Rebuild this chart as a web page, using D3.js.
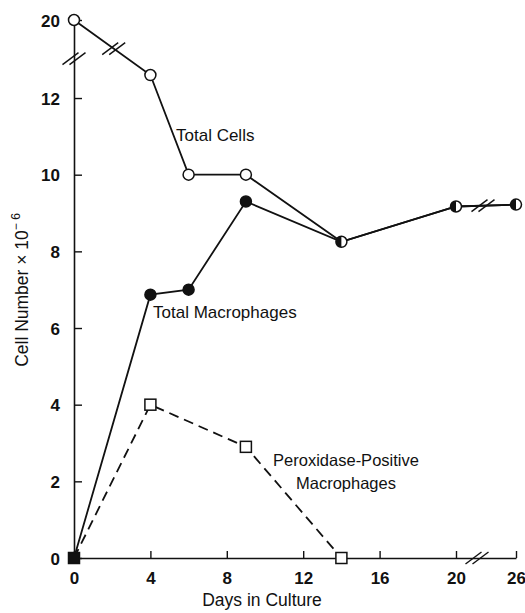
<!DOCTYPE html>
<html>
<head>
<meta charset="utf-8">
<script src="https://cdn.jsdelivr.net/npm/d3@7"></script>
<style>
  body { margin: 0; background: #fff; }
  text { font-family: "Liberation Sans", Arial, sans-serif; fill: #111; }
</style>
</head>
<body>
<script>
// days in culture
const days = [0, 4, 6, 9, 14, 20, 26];
const totalCells = [20, 12.6, 10, 10, 8.25, 9.17, 9.22];
const macroDays = [0, 4, 6, 9, 14, 20, 26];
const totalMacro = [0, 6.87, 7.0, 9.3, 8.25, 9.17, 9.22];
const peroxDays = [0, 4, 9, 14];
const peroxPos = [0, 4.0, 2.9, 0];
const xTicks = [0, 4, 8, 12, 16, 20, 26];
const yTicks = [0, 2, 4, 6, 8, 10, 12, 20];

const w = 525, h = 613;
const svg = d3.select("body").append("svg").attr("width", w).attr("height", h);

// broken scales
const x = d3.scaleLinear().domain([0, 20, 26]).range([74, 456, 516]);
const y = d3.scaleLinear().domain([0, 13, 20]).range([558, 59.7, 20]);

const xAxis = svg.append("g").attr("transform", `translate(0,${y(0)})`)
  .call(d3.axisBottom(x).tickValues(xTicks).tickSize(-7).tickPadding(12).tickSizeOuter(0));
const yAxis = svg.append("g").attr("transform", `translate(${x(0)},0)`)
  .call(d3.axisLeft(y).tickValues(yTicks).tickSize(-8).tickPadding(14).tickSizeOuter(0));

[xAxis, yAxis].forEach(g => {
  g.select(".domain").attr("stroke", "#111").attr("stroke-width", 1.6);
  g.selectAll(".tick line").attr("stroke", "#111").attr("stroke-width", 1.4);
  g.selectAll(".tick text").attr("font-size", 17).attr("font-weight", "bold")
    .attr("font-family", "Liberation Sans, Arial, sans-serif").attr("fill", "#111");
});
yAxis.selectAll(".tick text").attr("dy", "0.36em");
xAxis.selectAll(".tick text").attr("dy", "0.85em");

// break marks (two short slashes)
function breakMark(cx, cy) {
  [-3.5, 3.5].forEach(o => {
    svg.append("line")
      .attr("x1", cx + o - 8).attr("y1", cy + 6)
      .attr("x2", cx + o + 8).attr("y2", cy - 6)
      .attr("stroke", "#111").attr("stroke-width", 1.4);
  });
}

const line = d3.line().x(d => x(d[0])).y(d => y(d[1]));

const tc = days.map((d, i) => [d, totalCells[i]]);
const tm = macroDays.map((d, i) => [d, totalMacro[i]]);
const pp = peroxDays.map((d, i) => [d, peroxPos[i]]);

svg.append("path").datum(pp).attr("d", line).attr("fill", "none")
  .attr("stroke", "#111").attr("stroke-width", 1.8).attr("stroke-dasharray", "10,6");
svg.append("path").datum(tm).attr("d", line).attr("fill", "none")
  .attr("stroke", "#111").attr("stroke-width", 1.8);
svg.append("path").datum(tc).attr("d", line).attr("fill", "none")
  .attr("stroke", "#111").attr("stroke-width", 1.8);

// slash on a segment, at fraction t along it (pixel space)
function segBreak(a, b, t) {
  const x0 = x(a[0]), y0 = y(a[1]), x1 = x(b[0]), y1 = y(b[1]);
  breakMark(x0 + (x1 - x0) * t, y0 + (y1 - y0) * t);
}
breakMark(x(0), y(13.2));
segBreak(tc[0], tc[1], 0.52);
breakMark(x(22.1), y(0));
segBreak(tc[5], tc[6], 0.45);

// markers
svg.selectAll(".sq").data(pp).enter().append("rect")
  .attr("x", d => x(d[0]) - 5.5).attr("y", d => y(d[1]) - 5.5)
  .attr("width", 11).attr("height", 11)
  .attr("fill", (d, i) => i === 0 ? "#111" : "#fff")
  .attr("stroke", "#111").attr("stroke-width", 1.5);

const shared = d => d[0] >= 14;
svg.selectAll(".mc").data(tm.filter(d => !shared(d) && d[0] > 0)).enter().append("circle")
  .attr("cx", d => x(d[0])).attr("cy", d => y(d[1])).attr("r", 5.5)
  .attr("fill", "#111").attr("stroke", "#111").attr("stroke-width", 1.5);
svg.selectAll(".tcc").data(tc.filter(d => !shared(d))).enter().append("circle")
  .attr("cx", d => x(d[0])).attr("cy", d => y(d[1])).attr("r", 5.5)
  .attr("fill", "#fff").attr("stroke", "#111").attr("stroke-width", 1.5);

// half-filled where both series meet
const halves = svg.selectAll(".half").data(tc.filter(shared)).enter().append("g")
  .attr("transform", d => `translate(${x(d[0])},${y(d[1])})`);
halves.append("circle").attr("r", 5.5).attr("fill", "#fff").attr("stroke", "#111").attr("stroke-width", 1.5);
halves.append("path").attr("d", d3.arc()({innerRadius: 0, outerRadius: 5.5, startAngle: Math.PI, endAngle: 2 * Math.PI}))
  .attr("fill", "#111");

// labels
svg.append("text").attr("x", 176).attr("y", 141).attr("font-size", 17).text("Total Cells");
svg.append("text").attr("x", 153).attr("y", 318).attr("font-size", 17).text("Total Macrophages");
svg.append("text").attr("x", 346).attr("y", 466).attr("font-size", 16.5).attr("text-anchor", "middle").text("Peroxidase-Positive");
svg.append("text").attr("x", 346).attr("y", 489).attr("font-size", 16.5).attr("text-anchor", "middle").text("Macrophages");
svg.append("text").attr("x", 262).attr("y", 606).attr("font-size", 17.5).attr("text-anchor", "middle").text("Days in Culture");

const yl = svg.append("text").attr("transform", "translate(28,290) rotate(-90)")
  .attr("font-size", 17.5).attr("text-anchor", "middle");
yl.append("tspan").text("Cell Number \u00d7 10");
yl.append("tspan").attr("dy", -8).attr("font-size", 12).text("\u2212 6");
</script>
</body>
</html>
